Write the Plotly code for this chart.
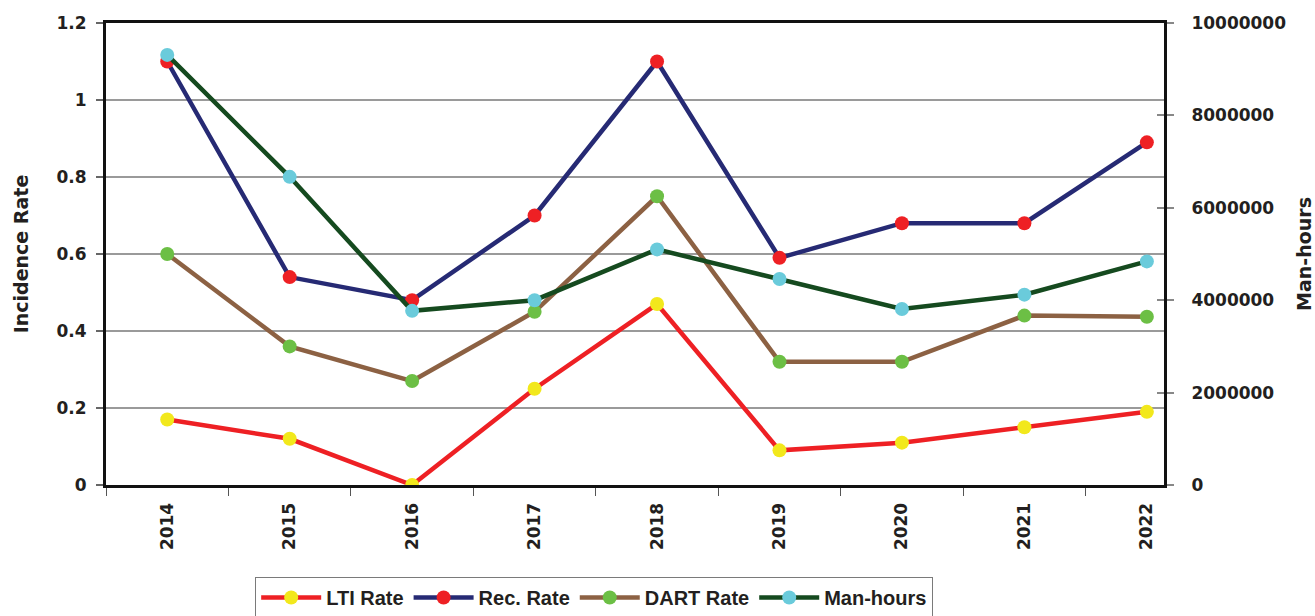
import plotly.graph_objects as go

years = ["2014", "2015", "2016", "2017", "2018", "2019", "2020", "2021", "2022"]
lti_rate = [0.17, 0.12, 0.00, 0.25, 0.47, 0.09, 0.11, 0.15, 0.19]
rec_rate = [1.10, 0.54, 0.48, 0.70, 1.10, 0.59, 0.68, 0.68, 0.89]
dart_rate = [0.60, 0.36, 0.27, 0.45, 0.75, 0.32, 0.32, 0.44, 0.437]
man_hours = [9310000, 6670000, 3770000, 4000000, 5100000, 4460000, 3810000, 4120000, 4840000]

FONT = "DejaVu Sans, Liberation Sans, Arial, sans-serif"
TXT = "#231f20"

series = [
    ("LTI Rate", lti_rate, "#ee2024", "#f2e81c", "y"),
    ("Rec. Rate", rec_rate, "#262a74", "#ee2024", "y"),
    ("DART Rate", dart_rate, "#8c6143", "#6cbf45", "y"),
    ("Man-hours", man_hours, "#154a1f", "#6acbdb", "y2"),
]

fig = go.Figure()
for name, vals, line_col, mark_col, yax in series:
    fig.add_trace(go.Scatter(
        x=years, y=vals, name=name, yaxis=yax,
        mode="lines+markers",
        line=dict(color=line_col, width=4.5),
        marker=dict(color=mark_col, size=14, line=dict(width=0)),
    ))

# invisible trace carrying the inner half of the right-hand cross ticks
fig.add_trace(go.Scatter(x=years, y=man_hours, yaxis="y3", mode="none",
                         showlegend=False, hoverinfo="skip"))

tick_font = dict(family=FONT, size=17, color=TXT, weight="bold")
title_font = dict(family=FONT, size=19, color=TXT, weight="bold")

fig.update_layout(
    width=1315, height=616,
    margin=dict(l=106, r=151, t=23, b=131, autoexpand=False),
    paper_bgcolor="white", plot_bgcolor="white",
    font=dict(family=FONT, color=TXT, size=17),
    xaxis=dict(
        type="category", range=[-0.5, 8.14],
        showline=True, linecolor="#111", linewidth=3, mirror=True,
        ticks="outside", tickson="boundaries", ticklen=8, tickcolor="#555", tickwidth=1,
        tickangle=-90, tickfont=tick_font, ticklabelstandoff=8,
        showgrid=False, zeroline=False,
    ),
    yaxis=dict(
        range=[0, 1.2], dtick=0.2, tick0=0,
        showline=True, linecolor="#111", linewidth=3,
        ticks="outside", ticklen=7, tickcolor="#666", tickwidth=1.5,
        showgrid=True, gridcolor="#9a9a9a", gridwidth=2, zeroline=False,
        tickfont=tick_font, ticklabelstandoff=6,
        title=dict(text="Incidence Rate", standoff=23, font=title_font),
    ),
    yaxis2=dict(
        overlaying="y", side="right", range=[0, 10000000], dtick=2000000,
        tickformat="d",
        showline=True, linecolor="#111", linewidth=3,
        ticks="outside", ticklen=7, tickcolor="#888", tickwidth=1.5,
        showgrid=False, zeroline=False,
        tickfont=tick_font, ticklabelstandoff=14,
        title=dict(text="Man-hours", standoff=14, font=title_font),
    ),
    yaxis3=dict(
        overlaying="y", side="right", anchor="x", range=[0, 10000000], dtick=2000000,
        ticks="inside", ticklen=7, tickcolor="#888", tickwidth=1.5,
        showticklabels=False, showgrid=False, zeroline=False, showline=False,
    ),
    legend=dict(
        orientation="h", x=0.141, y=-0.199, xanchor="left", yanchor="top",
        bordercolor="#7a7a7a", borderwidth=1, bgcolor="white",
        font=dict(family="Liberation Sans, Arial, sans-serif", size=20, color=TXT, weight="bold"),
        itemwidth=60, tracegroupgap=0,
    ),
    showlegend=True,
)

fig.write_html("out.html")
